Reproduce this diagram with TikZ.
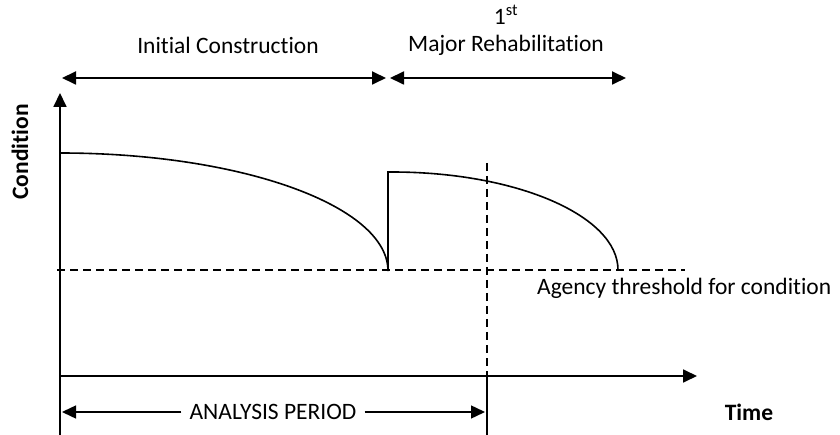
\documentclass[tikz,border=0pt]{standalone}
\usepackage{fontspec}
\setmainfont{Carlito}[Ligatures = NoCommon]
\usetikzlibrary{arrows.meta}
\begin{document}
\begin{tikzpicture}[
		x = 1pt, y = -1pt,
		every node/.style = {font = \fontsize{23.5}{27}\selectfont, inner sep = 0pt},
		bigtip/.style = {-{Triangle[length = 14pt, width = 13pt]}},
		bothtip/.style = {{Triangle[length = 14pt, width = 13pt]}-{Triangle[length = 14pt, width = 13pt]}},
		thresh/.style = {dashed, dash pattern = on 8pt off 5pt, line width = 1.4pt}]

	\useasboundingbox (0,0) rectangle (840,435);

	% axes
	\draw[bigtip, line width = 1.8pt] (60,435) -- (60,93);
	\draw[bigtip, line width = 1.8pt] (60,376) -- (697,376);
	\node[rotate = 90, font = \fontsize{23.5}{27}\selectfont\bfseries] (cond) at (20,152) {Condition};
	\node[font = \fontsize{23.5}{27}\selectfont\bfseries] (time) at (749,412) {Time};

	% phases on top
	\coordinate (ic1) at (62,78);
	\coordinate (ic2) at (386,78);
	\coordinate (mr1) at (390,78);
	\coordinate (mr2) at (626,78);
	\draw[bothtip, line width = 1.8pt] (ic1) -- (ic2);
	\draw[bothtip, line width = 1.8pt] (mr1) -- (mr2);
	\node (icl) at (228,45) {Initial Construction};
	\node (mrl) at (506,45) {Major Rehabilitation};
	\node (first) at (506,15) {1\textsuperscript{st}};

	% threshold
	\draw[thresh] (57,270) -- (685,270);
	\node[anchor = west] (agency) at (537,288) {Agency threshold for condition};

	% condition curves
	\draw[line width = 1.6pt] (60,153) arc[start angle = 270, end angle = 360, x radius = 328, y radius = 118]
		-- (388,172) -- (392,172) arc[start angle = 270, end angle = 360, x radius = 226, y radius = 98];

	% analysis period
	\draw[thresh] (487,163) -- (487,376);
	\draw[line width = 1.4pt] (487,376) -- (487,435);
	\node (ap) at (273,412) {ANALYSIS PERIOD};
	\coordinate (ap1) at (62,412);
	\coordinate (ap2) at (485,412);
	\draw[bigtip, line width = 1.4pt] (ap.west) ++(-8,0) -- (ap1);
	\draw[bigtip, line width = 1.4pt] (ap.east) ++(8,0) -- (ap2);

\end{tikzpicture}
\end{document}
